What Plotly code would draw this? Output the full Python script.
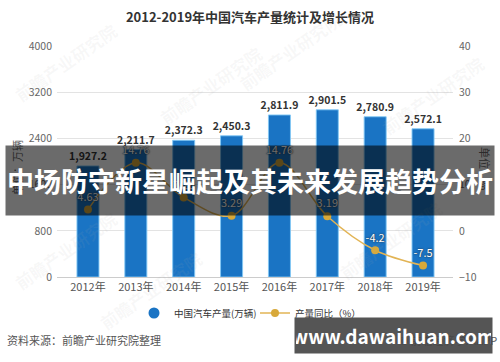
import plotly.graph_objects as go

years = ["2012年", "2013年", "2014年", "2015年", "2016年", "2017年", "2018年", "2019年"]
production = [1927.2, 2211.7, 2372.3, 2450.3, 2811.9, 2901.5, 2780.9, 2572.1]
growth = [4.63, 14.76, 7.26, 3.29, 14.76, 3.19, -4.2, -7.5]

W, H = 500, 362
FONT = "Noto Sans CJK SC, Noto Sans, sans-serif"

def px(x):
    return x / W

def py(y):
    return 1 - y / H

fig = go.Figure()

fig.add_trace(go.Bar(
    x=years, y=production, width=0.46,
    marker=dict(color="#1a74c4", line=dict(color="rgba(130,200,245,0.9)", width=1)),
    texttemplate="%{y:,.1f}", textposition="outside", cliponaxis=False,
    constraintext="none",
    textfont=dict(size=10.5, color="#333333", family=FONT, weight="bold"),
    showlegend=False, name="中国汽车产量(万辆)",
))

fig.add_trace(go.Scatter(
    x=years, y=growth, yaxis="y2", mode="lines+markers+text",
    line=dict(color="#e2b455", width=1.5, shape="spline"),
    marker=dict(color="#d8a93a", size=8),
    text=[f"{v:g}" for v in growth], textposition="top center",
    textfont=dict(size=11, color="#ffffff", family=FONT,
                  shadow="0px 0px 2px #2c3e50, 0px 0px 1px #2c3e50"),
    name="产量同比（%）", showlegend=True, cliponaxis=False, legendrank=2,
))

# legend entry with a round blue symbol for the bar series
fig.add_trace(go.Scatter(
    x=[None], y=[None], mode="markers",
    marker=dict(color="#1a74c4", size=11, symbol="circle"),
    name="中国汽车产量(万辆)", showlegend=True, legendrank=1,
))

annotations = []

def ann(x, y, text, **kw):
    d = dict(x=px(x), y=py(y), xref="paper", yref="paper", text=text,
             showarrow=False, xanchor=kw.pop("xanchor", "center"),
             yanchor=kw.pop("yanchor", "middle"))
    d.update(kw)
    annotations.append(d)

# watermarks
for (wx, wy) in [(65, 62), (290, 52), (432, 95), (210, 85), (65, 250), (390, 240), (150, 290)]:
    ann(wx, wy, "前瞻产业研究院", textangle=-35,
        font=dict(size=17, color="rgba(170,170,170,0.09)", family=FONT, weight="bold"))

# axis unit titles
ann(17, 168, "单位：万辆", textangle=-90, font=dict(size=11, color="#666666", family=FONT))
ann(485, 168, "单位：%", textangle=90, font=dict(size=11, color="#666666", family=FONT))

# source
ann(5, 340, "资料来源：前瞻产业研究院整理", xanchor="left",
    font=dict(size=11, color="#555555", family=FONT))
ann(499, 340, "© 前瞻经济学人APP", xanchor="right",
    font=dict(size=11, color="#555555", family=FONT))

# overlay banner
ann(250, 180.5, "中场防守新星崛起及其未来发展趋势分析",
    bgcolor="rgba(0,0,0,0.58)", width=486, height=67,
    font=dict(size=27, color="#ffffff", family=FONT, weight="bold"))

# bottom-right site box
ann(393.5, 335.5, "www.dawaihuan.com",
    bgcolor="rgba(70,70,70,0.92)", width=195, height=33,
    font=dict(size=19, color="#ffffff", family=FONT, weight="bold"))

fig.update_layout(
    width=W, height=H,
    margin=dict(l=0, r=0, t=0, b=0),
    paper_bgcolor="white", plot_bgcolor="white",
    font=dict(family=FONT),
    title=dict(text="2012-2019年中国汽车产量统计及增长情况", x=0.5, xanchor="center",
               y=py(17), yanchor="middle", yref="container",
               font=dict(size=13, color="#333333", family=FONT, weight="bold")),
    xaxis=dict(domain=[px(57), px(453)], range=[-0.647, 7.626],
               showline=True, linecolor="#cccccc", linewidth=1,
               ticks="", tickfont=dict(size=11, color="#555555"),
               showgrid=False, automargin=False),
    yaxis=dict(domain=[py(277), py(46.5)], range=[0, 4000], dtick=800,
               showgrid=True, gridcolor="#e3e3e3", gridwidth=1,
               tickfont=dict(size=10.5, color="#666666"), ticklabelstandoff=4,
               zeroline=False, showline=False, automargin=False),
    yaxis2=dict(overlaying="y", side="right", anchor="x", range=[-10, 40], dtick=10,
                showgrid=False, zeroline=False, showline=False, automargin=False,
                tickfont=dict(size=10.5, color="#666666"), ticklabelstandoff=5),
    legend=dict(orientation="h", x=0.51, xanchor="center", y=py(313), yanchor="middle",
                font=dict(size=9.5, color="#333333", family=FONT), itemwidth=30,
                entrywidth=76, bgcolor="rgba(0,0,0,0)"),
    annotations=annotations,
    showlegend=True,
)

fig.write_html("out.html")
